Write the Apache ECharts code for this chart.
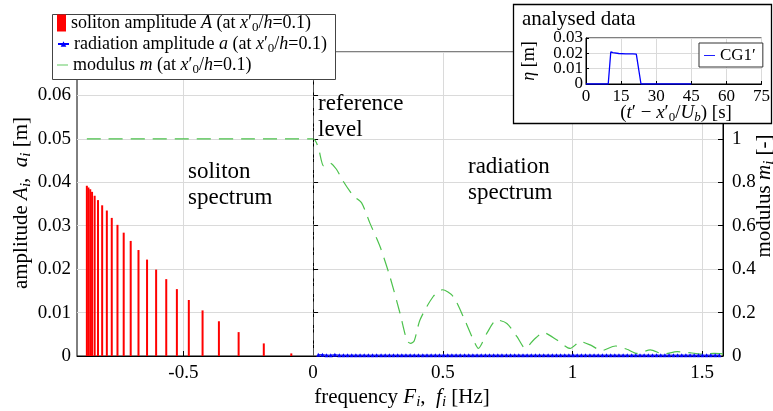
<!DOCTYPE html>
<html>
<head>
<meta charset="utf-8">
<script src="https://cdn.jsdelivr.net/npm/echarts@6/dist/echarts.min.js"></script>
<style>
  html, body { margin: 0; padding: 0; background: #fff; }
  #chart { width: 773px; height: 411px; }
</style>
</head>
<body>
<div id="chart"></div>
<script>
// Soliton spectrum: eigenfrequencies F_i [Hz] and soliton amplitudes A_i [m]
const solitonFreq = [-0.872, -0.866, -0.859, -0.852, -0.842, -0.829, -0.813, -0.795, -0.776, -0.754,
  -0.730, -0.703, -0.673, -0.640, -0.605, -0.566, -0.525, -0.479, -0.426, -0.363, -0.287, -0.190, -0.084];
const solitonAmp = [0.0392, 0.0388, 0.0384, 0.0378, 0.0369, 0.0359, 0.0347, 0.0335, 0.0318, 0.0302,
  0.0284, 0.0265, 0.0244, 0.0222, 0.0199, 0.0177, 0.0154, 0.0129, 0.0105, 0.0080, 0.0055, 0.0029, 0.0006];

// Radiation spectrum: frequencies f_i [Hz] and radiation amplitudes a_i [m]
const radiationFreq = [0.020, 0.036, 0.052, 0.068, 0.084, 0.101, 0.117, 0.133, 0.149, 0.165,
  0.181, 0.197, 0.213, 0.229, 0.245, 0.262, 0.278, 0.294, 0.310, 0.326,
  0.342, 0.358, 0.374, 0.390, 0.406, 0.423, 0.439, 0.455, 0.471, 0.487,
  0.503, 0.519, 0.535, 0.551, 0.567, 0.584, 0.600, 0.616, 0.632, 0.648,
  0.664, 0.680, 0.696, 0.712, 0.728, 0.745, 0.761, 0.777, 0.793, 0.809,
  0.825, 0.841, 0.857, 0.873, 0.889, 0.906, 0.922, 0.938, 0.954, 0.970,
  0.986, 1.002, 1.018, 1.034, 1.050, 1.067, 1.083, 1.099, 1.115, 1.131,
  1.147, 1.163, 1.179, 1.195, 1.211, 1.228, 1.244, 1.260, 1.276, 1.292,
  1.308, 1.324, 1.340, 1.356, 1.372, 1.389, 1.405, 1.421, 1.437, 1.453,
  1.469, 1.485, 1.501, 1.517, 1.533, 1.550, 1.566];
const radiationAmp = [0.0003, 0.0003, 0.0002, 0.0002, 0.0003, 0.0002, 0.0002, 0.0002, 0.0002, 0.0002,
  0.0002, 0.0002, 0.0002, 0.0002, 0.0002, 0.0002, 0.0002, 0.0002, 0.0002, 0.0002,
  0.0002, 0.0002, 0.0002, 0.0002, 0.0002, 0.0002, 0.0002, 0.0002, 0.0002, 0.0002,
  0.0002, 0.0002, 0.0002, 0.0002, 0.0002, 0.0002, 0.0002, 0.0002, 0.0002, 0.0002,
  0.0002, 0.0002, 0.0002, 0.0002, 0.0002, 0.0002, 0.0002, 0.0002, 0.0002, 0.0002,
  0.0002, 0.0002, 0.0002, 0.0002, 0.0002, 0.0002, 0.0002, 0.0002, 0.0002, 0.0002,
  0.0002, 0.0002, 0.0002, 0.0002, 0.0002, 0.0002, 0.0002, 0.0002, 0.0002, 0.0002,
  0.0002, 0.0002, 0.0002, 0.0002, 0.0002, 0.0002, 0.0002, 0.0002, 0.0002, 0.0002,
  0.0002, 0.0002, 0.0002, 0.0002, 0.0002, 0.0002, 0.0002, 0.0002, 0.0002, 0.0002,
  0.0002, 0.0002, 0.0002, 0.0002, 0.0002, 0.0002, 0.0002];

// Nonlinear spectrum modulus m_i [-]
const modulusFreq = [-0.872, 0, 0.02, 0.041, 0.065, 0.09, 0.116, 0.155, 0.187, 0.219,
  0.258, 0.296, 0.335, 0.362, 0.376, 0.39, 0.412, 0.463, 0.499, 0.54,
  0.579, 0.618, 0.637, 0.67, 0.708, 0.747, 0.786, 0.818, 0.85, 0.888,
  0.94, 0.991, 1.03, 1.068, 1.113, 1.165, 1.21, 1.248, 1.30, 1.351,
  1.403, 1.454, 1.493, 1.545, 1.58];
const modulusVal = [1.0, 1.0, 0.96, 0.875, 0.889, 0.86, 0.805, 0.738, 0.705, 0.612,
  0.504, 0.366, 0.197, 0.07, 0.058, 0.07, 0.166, 0.274, 0.305, 0.274,
  0.181, 0.074, 0.035, 0.105, 0.166, 0.15, 0.089, 0.035, 0.074, 0.108,
  0.074, 0.035, 0.066, 0.051, 0.025, 0.046, 0.031, 0.012, 0.028, 0.009,
  0.020, 0.015, 0.009, 0.012, 0.010];

// Analysed surface elevation record at gauge CG1'
const gaugeTime = [0, 9.5, 10.6, 11.5, 14, 17, 20, 21.5, 23.5, 45];
const gaugeEta = [0, 0, 0.0210, 0.0204, 0.0199, 0.0197, 0.0196, 0.0195, 0, 0];

// Axis ticks
const freqTicks = [-0.5, 0, 0.5, 1, 1.5];
const etaTicksEven = [0, 0.02];
const etaTicksOdd = [0.01, 0.03];

const FONT = 'Liberation Serif';
const pairs = (xs, ys) => xs.map((x, k) => [x, ys[k]]);
// thin horizontal stroke used as a legend key for plain lines
const LINE_ICON = 'path://M0,0 L20,0 L20,1.6 L0,1.6 Z';

function richSet(size) {
  const sub = Math.round(size * 0.7);
  return {
    t: { fontFamily: FONT, fontSize: size, lineHeight: size + 4, color: '#000' },
    i: { fontFamily: FONT, fontSize: size, fontStyle: 'italic', lineHeight: size + 4, color: '#000' },
    s: { fontFamily: FONT, fontSize: sub, lineHeight: sub, verticalAlign: 'bottom', color: '#000' },
    si: { fontFamily: FONT, fontSize: sub, fontStyle: 'italic', lineHeight: sub, verticalAlign: 'bottom', color: '#000' }
  };
}

const atText = '{t| (at }{i|x}{t|′}{s|0}{t|/}{i|h}{t|=0.1)}';
const legendLabels = {
  'soliton amplitude': '{t|soliton amplitude }{i|A}' + atText,
  'radiation amplitude': '{t|radiation amplitude }{i|a}' + atText,
  'modulus': '{t|modulus }{i|m}' + atText
};

const GRID_COLOR = '#dadada';
const TICK_FONT = 19;
const TITLE_FONT = 21;
const NOTE_FONT = 23;

const chart = echarts.init(document.getElementById('chart'), null, { renderer: 'canvas' });

function mainLegend(name, top, w, h, icon, color) {
  const l = {
    data: [name], left: 57, top: top, padding: 0, itemWidth: w, itemHeight: h, z: 11,
    selectedMode: false, itemGap: 4,
    formatter: n => legendLabels[n],
    textStyle: { rich: richSet(18), padding: [0, 0, 0, 0] }
  };
  if (icon) l.icon = icon;
  if (color) l.itemStyle = { color: color, borderWidth: 0 };
  return l;
}

// inset elevation axis; its labels are split over two overlaid axes so none get dropped
function etaAxis(ticks, primary) {
  return {
    type: 'value', gridIndex: 1, min: 0, max: 0.03, interval: 0.01, z: 12,
    position: 'left', offset: 0,
    axisLine: { show: primary, lineStyle: { color: '#000' } },
    axisTick: { show: primary, inside: true, length: 3, lineStyle: { color: '#000' } },
    axisLabel: {
      customValues: ticks, margin: 3, hideOverlap: false, showMinLabel: true, showMaxLabel: true,
      color: '#000', fontFamily: FONT, fontSize: 17,
      formatter: v => v === 0 ? '0' : v.toFixed(2)
    },
    splitLine: { show: primary, lineStyle: { color: GRID_COLOR } }
  };
}

chart.setOption({
  animation: false,
  backgroundColor: '#fff',
  grid: [
    { left: 77, right: 50, top: 52, bottom: 55, show: true, borderColor: '#000', borderWidth: 1, backgroundColor: 'transparent' },
    { left: 586, right: 6, top: 38, bottom: 327, show: true, borderColor: '#000', borderWidth: 1, z: 12 }
  ],
  legend: [
    mainLegend('soliton amplitude', 14, 9, 17, 'rect'),
    mainLegend('radiation amplitude', 35, 11, 7),
    mainLegend('modulus', 56, 11, 7, LINE_ICON, '#4cc24c'),
    {
      data: ['CG1′'], left: 699, top: 43, padding: [4, 7, 3, 5], itemWidth: 11, itemHeight: 6, z: 13,
      icon: LINE_ICON, itemGap: 4, itemStyle: { color: '#0000ff', borderWidth: 0 },
      selectedMode: false, borderColor: '#333', borderWidth: 1, backgroundColor: '#fff',
      textStyle: { fontFamily: FONT, fontSize: 17, color: '#000' }
    }
  ],
  xAxis: [
    {
      type: 'value', gridIndex: 0, min: -0.91, max: 1.58,
      axisLine: { show: true, lineStyle: { color: '#000', width: 1 } },
      axisTick: { show: true, inside: true, length: 5, customValues: freqTicks, lineStyle: { color: '#000' } },
      axisLabel: {
        customValues: freqTicks, margin: 8, color: '#000', fontFamily: FONT, fontSize: TICK_FONT,
        formatter: v => String(v)
      },
      splitLine: { show: true, lineStyle: { color: GRID_COLOR, width: 1 } }
    },
    {
      type: 'value', gridIndex: 1, min: 0, max: 75, interval: 15, z: 12,
      axisLine: { show: true, lineStyle: { color: '#000' } },
      axisTick: { show: true, inside: true, length: 3, lineStyle: { color: '#000' } },
      axisLabel: { margin: 4, color: '#000', fontFamily: FONT, fontSize: 17, hideOverlap: false, showMinLabel: true, showMaxLabel: true },
      splitLine: { show: true, lineStyle: { color: GRID_COLOR } }
    }
  ],
  yAxis: [
    {
      type: 'value', gridIndex: 0, min: 0, max: 0.07, interval: 0.01, position: 'left',
      axisLine: { show: true, lineStyle: { color: '#000' } },
      axisTick: { show: true, inside: true, length: 5, lineStyle: { color: '#000' } },
      axisLabel: {
        margin: 6, color: '#000', fontFamily: FONT, fontSize: TICK_FONT,
        formatter: v => v === 0 ? '0' : (v > 0.065 ? '' : v.toFixed(2))
      },
      splitLine: { show: true, lineStyle: { color: GRID_COLOR } }
    },
    {
      type: 'value', gridIndex: 0, min: 0, max: 1.4, interval: 0.2, position: 'right',
      axisLine: { show: true, lineStyle: { color: '#000' } },
      axisTick: { show: true, inside: true, length: 5, lineStyle: { color: '#000' } },
      axisLabel: {
        margin: 9, color: '#000', fontFamily: FONT, fontSize: TICK_FONT,
        formatter: v => v === 0 ? '0' : (Math.abs(v - 1) < 1e-9 ? '1' : (v > 1 ? '' : v.toFixed(1)))
      },
      splitLine: { show: false }
    },
    etaAxis(etaTicksEven, true),
    etaAxis(etaTicksOdd, false)
  ],
  series: [
    {
      name: 'soliton amplitude', type: 'bar', xAxisIndex: 0, yAxisIndex: 0,
      data: pairs(solitonFreq, solitonAmp), barWidth: 2,
      itemStyle: { color: '#ff0000' }, z: 3
    },
    {
      name: 'modulus', type: 'line', xAxisIndex: 0, yAxisIndex: 1,
      data: pairs(modulusFreq, modulusVal), showSymbol: false, symbol: 'none', smooth: 0.25,
      lineStyle: { color: '#4cc24c', width: 1.2, type: [14, 8] },
      itemStyle: { color: '#4cc24c' }, z: 4,
      markLine: {
        silent: true, symbol: 'none', label: { show: false },
        lineStyle: { color: '#555', width: 1, type: [8, 3, 1.5, 3] },
        data: [{ xAxis: 0 }]
      }
    },
    {
      name: 'radiation amplitude', type: 'line', xAxisIndex: 0, yAxisIndex: 0,
      data: pairs(radiationFreq, radiationAmp), symbol: 'triangle', symbolSize: 4, showSymbol: true,
      lineStyle: { color: '#0000ff', width: 1 }, itemStyle: { color: '#0000ff' }, z: 5
    },
    {
      name: 'CG1′', type: 'line', xAxisIndex: 1, yAxisIndex: 2,
      data: pairs(gaugeTime, gaugeEta), symbol: 'none', showSymbol: false,
      lineStyle: { color: '#0000ff', width: 1.3 }, itemStyle: { color: '#0000ff' }, z: 13
    }
  ],
  graphic: {
    elements: [
      // legend frame
      { type: 'rect', z: 10, shape: { x: 52.5, y: 14.5, width: 283, height: 65 },
        style: { fill: '#fff', stroke: '#444', lineWidth: 1 } },
      // inset frame
      { type: 'rect', z: 10, shape: { x: 513.5, y: 4.5, width: 258, height: 119 },
        style: { fill: '#fff', stroke: '#000', lineWidth: 1.3 } },
      { type: 'text', z: 14, x: 522, y: 19,
        style: { text: 'analysed data', fontFamily: FONT, fontSize: 21, fill: '#000', align: 'left', verticalAlign: 'middle' } },
      { type: 'text', z: 14, x: 529, y: 61, rotation: Math.PI / 2,
        style: { text: '{i|η}{t| [m]}', rich: richSet(18), align: 'center', verticalAlign: 'middle' } },
      { type: 'text', z: 14, x: 676, y: 113,
        style: { text: '{t|(}{i|t}{t|′ − }{i|x}{t|′}{s|0}{t|/}{i|U}{si|b}{t|) [s]}', rich: richSet(19), align: 'center', verticalAlign: 'middle' } },
      // axis titles
      { type: 'text', z: 6, x: 402, y: 397,
        style: { text: '{t|frequency }{i|F}{si|i}{t|,  }{i|f}{si|i}{t| [Hz]}', rich: richSet(TITLE_FONT), align: 'center', verticalAlign: 'middle' } },
      { type: 'text', z: 6, x: 21, y: 203, rotation: Math.PI / 2,
        style: { text: '{t|amplitude }{i|A}{si|i}{t|,  }{i|a}{si|i}{t| [m]}', rich: richSet(TITLE_FONT), align: 'center', verticalAlign: 'middle' } },
      { type: 'text', z: 6, x: 764, y: 196, rotation: Math.PI / 2,
        style: { text: '{t|modulus }{i|m}{si|i}{t| [-]}', rich: richSet(TITLE_FONT), align: 'center', verticalAlign: 'middle' } },
      // region annotations
      { type: 'text', z: 6, x: 318, y: 117,
        style: { text: 'reference\nlevel', fontFamily: FONT, fontSize: NOTE_FONT, lineHeight: 26, fill: '#000', align: 'left', verticalAlign: 'middle' } },
      { type: 'text', z: 6, x: 188, y: 185,
        style: { text: 'soliton\nspectrum', fontFamily: FONT, fontSize: NOTE_FONT, lineHeight: 26, fill: '#000', align: 'left', verticalAlign: 'middle' } },
      { type: 'text', z: 6, x: 468, y: 180,
        style: { text: 'radiation\nspectrum', fontFamily: FONT, fontSize: NOTE_FONT, lineHeight: 26, fill: '#000', align: 'left', verticalAlign: 'middle' } }
    ]
  }
});
</script>
</body>
</html>
